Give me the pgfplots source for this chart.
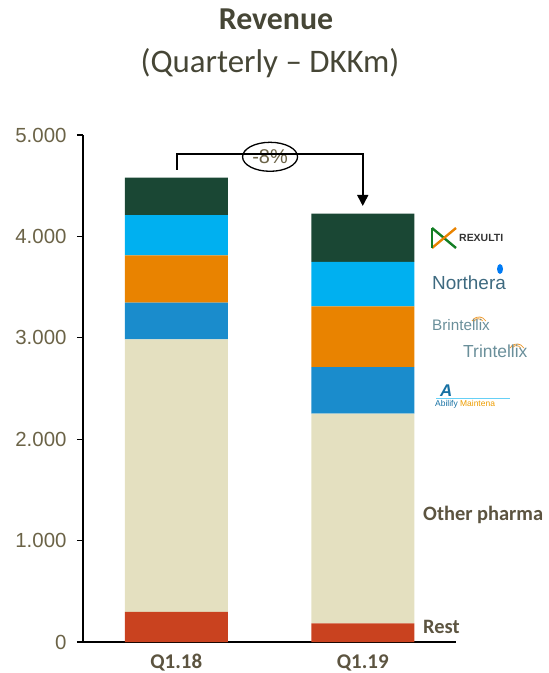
\documentclass[border=0pt]{standalone}
\usepackage{fontspec}
\setmainfont{Carlito}
\newfontfamily\arial{Liberation Sans}
\usepackage{pgfplots}
\pgfplotsset{compat=1.18}
\usetikzlibrary{arrows.meta,shapes.geometric}
\definecolor{crest}{HTML}{C9421F}
\definecolor{cother}{HTML}{E4E0C0}
\definecolor{cabil}{HTML}{1A8CCC}
\definecolor{cbrint}{HTML}{E98300}
\definecolor{cnorth}{HTML}{00B0F0}
\definecolor{crex}{HTML}{1A4734}
\definecolor{tickc}{HTML}{6B6347}
\definecolor{labc}{HTML}{5C5440}
\definecolor{titc}{HTML}{464636}
\definecolor{northc}{HTML}{3E6A80}
\definecolor{brintc}{HTML}{6A8F9A}
\begin{document}
\begin{tikzpicture}
\useasboundingbox (0,0) rectangle (549bp,673bp);
\begin{axis}[at={(83bp,31bp)}, anchor=south west, scale only axis,
  width=373bp, height=507bp,
  xmin=-0.5, xmax=1.5, ymin=0, ymax=5000,
  ybar stacked, bar width=103bp,
  axis x line=bottom, axis y line=left,
  axis line style={-, line width=1.5bp, black},
  clip=false,
  xtick={0,1}, xticklabels={Q1.18,Q1.19},
  x tick style={draw=none},
  xticklabel style={font=\bfseries\fontsize{21}{22}\selectfont, color=labc, anchor=base, inner sep=0pt, yshift=-20bp},
  ytick={0,1000,2000,3000,4000,5000},
  tick align=outside, major tick length=6bp,
  y tick style={line width=1.2bp, black},
  yticklabel style={font=\arial\fontsize{20.5}{24}\selectfont, color=tickc, xshift=-7bp,
    /pgf/number format/1000 sep={.}, /pgf/number format/assume math mode=true},
]
\addplot[fill=crest, draw=none] coordinates {(0,296) (1,184)};
\addplot[fill=cother, draw=none] coordinates {(0,2689) (1,2067)};
\addplot[fill=cabil, draw=none] coordinates {(0,361) (1,461)};
\addplot[fill=cbrint, draw=none] coordinates {(0,468) (1,599)};
\addplot[fill=cnorth, draw=none] coordinates {(0,397) (1,437)};
\addplot[fill=crex, draw=none] coordinates {(0,368) (1,476)};
\draw[line width=1.6bp, -{Triangle[length=11bp,width=11bp]}]
  (axis cs:0.003,4655) -- (axis cs:0.003,4813) -- (axis cs:1,4813) -- (axis cs:1,4300);
\node[ellipse, draw, fill=white, line width=1.3bp, minimum width=55bp, minimum height=29bp, inner sep=0pt]
  at (axis cs:0.503,4785) {\arial\fontsize{20}{22}\selectfont\color{tickc}-8\%};
\end{axis}
% titles
\node[anchor=base, color=titc, font=\bfseries\fontsize{32}{36}\selectfont] at (276bp,643bp) {Revenue};
\node[anchor=base, color=titc, font=\fontsize{33}{36}\selectfont] at (270bp,600bp) {(Quarterly – DKKm)};
% segment labels
\node[anchor=west, inner sep=0pt, color=labc, font=\bfseries\fontsize{20.5}{24}\selectfont] at (423bp,158bp) {Other pharma};
\node[anchor=west, inner sep=0pt, color=labc, font=\bfseries\fontsize{20.5}{24}\selectfont] at (423bp,46bp) {Rest};
% logos as text
\draw[line width=2.4bp, color=crex!70!green] (432bp,445bp) -- (456bp,425bp);
\draw[line width=2.4bp, color=cbrint] (432bp,425bp) -- (456bp,445bp);
\draw[line width=2.4bp, color=crex!70!green] (432bp,445bp) -- (432bp,425bp);
\node[anchor=base west, inner sep=0pt, color=black!80, font=\arial\bfseries\fontsize{10.5}{12}\selectfont] at (459bp,431bp) {REXULTI};
\fill[cnorth!70!blue] (500bp,404bp) ellipse (3bp and 5bp);
\node[anchor=base west, inner sep=0pt, color=northc, font=\arial\fontsize{19}{22}\selectfont] at (432bp,383bp) {Northera};
\draw[cbrint!80, line width=0.8bp] (474bp,352bp) arc (150:30:5bp);
\draw[cbrint!80, line width=0.8bp] (472bp,352bp) arc (150:30:8bp);
\node[anchor=base west, inner sep=0pt, color=brintc, font=\arial\fontsize{15.3}{18}\selectfont] at (432bp,342bp) {Brintellix};
\draw[cbrint!80, line width=0.8bp] (512bp,325bp) arc (150:30:5bp);
\draw[cbrint!80, line width=0.8bp] (510bp,325bp) arc (150:30:8bp);
\node[anchor=base west, inner sep=0pt, color=brintc, font=\arial\fontsize{17.5}{20}\selectfont] at (463bp,315bp) {Trintellix};
\node[anchor=base west, inner sep=0pt, color=cabil!80!black, font=\arial\bfseries\itshape\fontsize{17}{20}\selectfont] at (440bp,276bp) {A};
\draw[cnorth!60, line width=1bp] (436bp,274bp) -- (510bp,274bp);
\node[anchor=base west, inner sep=0pt, font=\arial\fontsize{8.5}{10}\selectfont] at (435bp,266bp) {\textcolor{cabil!80!black}{Abilify} \textcolor{cbrint!80!yellow}{Maintena}};
\end{tikzpicture}
\end{document}
